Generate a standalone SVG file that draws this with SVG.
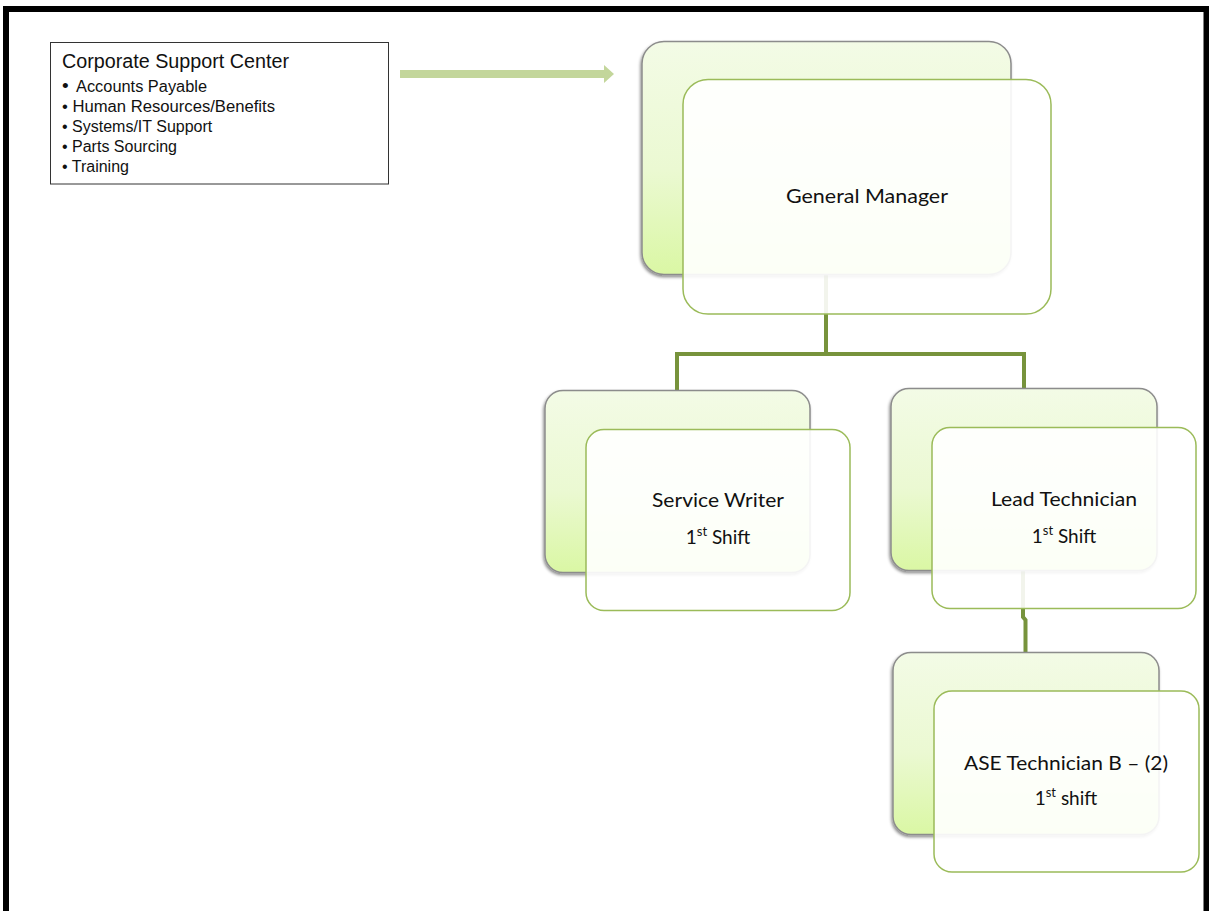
<svg xmlns="http://www.w3.org/2000/svg" width="1209" height="911" viewBox="0 0 1209 911">
  <defs>
    <linearGradient id="backFill" x1="0" y1="0" x2="0" y2="1">
      <stop offset="0" stop-color="#f3fbe6"/>
      <stop offset="0.55" stop-color="#ebf9d2"/>
      <stop offset="1" stop-color="#daf7a4"/>
    </linearGradient>
    <filter id="shadow" x="-10%" y="-10%" width="120%" height="125%">
      <feDropShadow dx="-1" dy="2" stdDeviation="1.5" flood-color="#000" flood-opacity="0.45"/>
    </filter>
    <marker id="wideHead" viewBox="0 0 10 18" refX="0" refY="9" markerWidth="10" markerHeight="18" markerUnits="userSpaceOnUse" orient="auto">
      <path d="M0,0 L10,9 L0,18 Z" fill="#c3d69b"/>
    </marker>
    <style>
      .back { fill: url(#backFill); stroke: #8c8c8c; stroke-width: 1.5; filter: url(#shadow); }
      .front { fill: #ffffff; fill-opacity: 0.9; stroke: #9bbb59; stroke-width: 1.5; }
      .label { font-family: Lato, "Open Sans", sans-serif; font-size: 19px; fill: #111; text-anchor: middle; }
      .sup { font-size: 13px; }
      .link { fill: none; stroke: #77933c; stroke-width: 4; }
      .corp { font-family: "Liberation Sans", Arial, sans-serif; fill: #111; }
    </style>
  </defs>

  <rect width="1209" height="911" fill="#ffffff"/>

  <!-- page frame -->
  <rect x="6" y="9" width="1200.5" height="1000" fill="none" stroke="#000" stroke-width="6"/>

  <!-- support center list -->
  <g id="corporate-support">
    <rect x="50.5" y="42.5" width="338" height="141.5" fill="#fff" stroke="#333" stroke-width="1"/>
    <text class="corp" x="62" y="68" font-size="19.5" textLength="227" lengthAdjust="spacingAndGlyphs">Corporate Support Center</text>
    <text class="corp" x="62" y="92" font-size="19">•</text>
    <text class="corp" x="76" y="92" font-size="16" textLength="131" lengthAdjust="spacingAndGlyphs">Accounts Payable</text>
    <text class="corp" x="62" y="112" font-size="16" textLength="213" lengthAdjust="spacingAndGlyphs">• Human Resources/Benefits</text>
    <text class="corp" x="62" y="132" font-size="16">• Systems/IT Support</text>
    <text class="corp" x="62" y="152" font-size="16">• Parts Sourcing</text>
    <text class="corp" x="62" y="172" font-size="16">• Training</text>
  </g>

  <!-- connectors -->
  <g id="connectors">
    <line x1="400" y1="74" x2="604" y2="74" stroke="#c3d69b" stroke-width="8" marker-end="url(#wideHead)"/>
    <path class="link" d="M826,274 V354 M677,391 V354 H1024 V390"/>
    <path class="link" d="M1023,570 V617 L1025.5,620 V652"/>
  </g>

  <g id="general-manager">
    <rect class="back" x="642" y="41.5" width="369" height="233" rx="22"/>
    <rect class="front" x="683" y="79.5" width="368" height="234.5" rx="25"/>
    <text class="label" x="867" y="203" textLength="162" lengthAdjust="spacingAndGlyphs">General Manager</text>
  </g>

  <g id="service-writer">
    <rect class="back" x="545" y="390.5" width="265" height="182" rx="18"/>
    <rect class="front" x="586" y="429.5" width="264" height="181" rx="18"/>
    <text class="label" x="718" y="507" textLength="132" lengthAdjust="spacingAndGlyphs">Service Writer</text>
    <text class="label" x="718" y="544" font-size="20">1<tspan class="sup" dy="-8">st</tspan><tspan dy="8"> Shift</tspan></text>
  </g>

  <g id="lead-technician">
    <rect class="back" x="891" y="388.5" width="266" height="182" rx="18"/>
    <rect class="front" x="932" y="427.5" width="264" height="181" rx="18"/>
    <text class="label" x="1064" y="506" textLength="146" lengthAdjust="spacingAndGlyphs">Lead Technician</text>
    <text class="label" x="1064" y="543" font-size="20">1<tspan class="sup" dy="-8">st</tspan><tspan dy="8"> Shift</tspan></text>
  </g>

  <g id="ase-technician">
    <rect class="back" x="893" y="652.5" width="266" height="182" rx="18"/>
    <rect class="front" x="934" y="691" width="265" height="181" rx="18"/>
    <text class="label" x="1066" y="770" textLength="204" lengthAdjust="spacingAndGlyphs">ASE Technician B – (2)</text>
    <text class="label" x="1066" y="805" font-size="20">1<tspan class="sup" dy="-8">st</tspan><tspan dy="8"> shift</tspan></text>
  </g>
</svg>
